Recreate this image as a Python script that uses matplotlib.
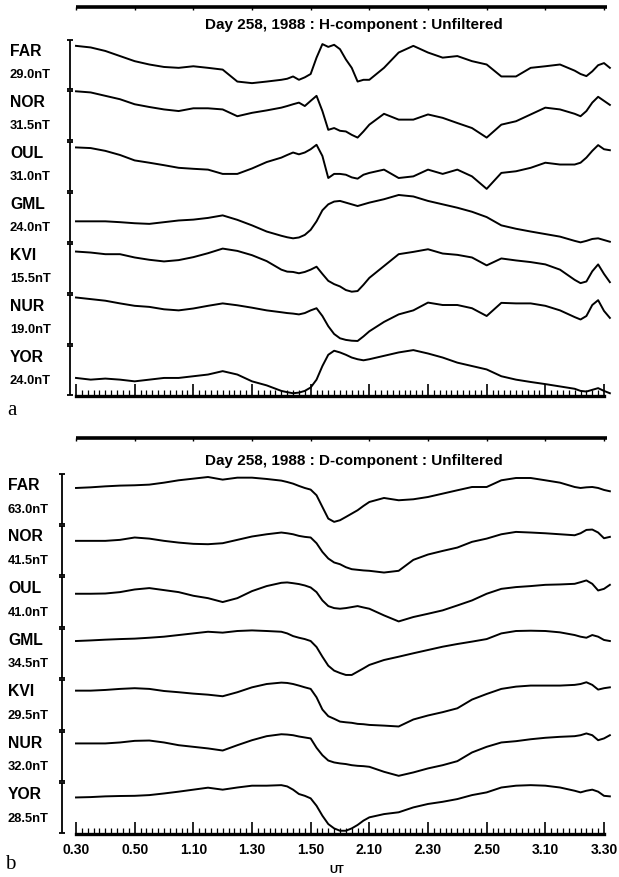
import matplotlib
matplotlib.use("Agg")
import matplotlib.pyplot as plt
from matplotlib.ticker import FixedLocator, MultipleLocator

plt.rcParams["font.family"] = ["Liberation Sans", "DejaVu Sans"]
plt.rcParams["font.weight"] = "bold"

# sample times, minutes after 00:30 UT
MINUTES = [0, 5, 10, 15, 20, 25, 30, 35, 40, 45, 50, 55, 60, 65, 70,
           72, 74, 76, 78, 80, 82, 84, 86, 88, 90, 92, 94, 96, 98, 100,
           105, 110, 115, 120, 125, 130, 135, 140, 145, 150, 155, 160, 165, 170,
           172, 174, 176, 178, 180, 182]

STATIONS = ["FAR", "NOR", "OUL", "GML", "KVI", "NUR", "YOR"]
H_SCALES = [29.0, 31.5, 31.0, 24.0, 15.5, 19.0, 24.0]
D_SCALES = [63.0, 41.5, 41.0, 34.5, 29.5, 32.0, 28.5]

TICK_MINUTES = [0, 20, 40, 60, 80, 100, 120, 140, 160, 180]
TICK_LABELS = ["0.30", "0.50", "1.10", "1.30", "1.50", "2.10", "2.30", "2.50", "3.10", "3.30"]

# H-component, nT above the bottom of each station's strip
H_FAR = [25.1, 24.2, 22.2, 19.3, 16.4, 14.5, 13.1, 12.6, 13.5, 12.6, 11.6, 4.8, 3.9, 4.8, 5.8,
         6.4, 7.7, 5.8, 7.2, 9.1, 18.4, 26.1, 24.5, 25.7, 23.2, 17.4, 12.6, 4.8, 5.8, 5.8,
         12.6, 21.3, 25.1, 21.3, 18.4, 19.3, 16.4, 14.5, 7.7, 7.7, 12.6, 13.5, 14.5, 11.0,
         9.1, 7.9, 10.6, 14.1, 15.3, 12.6]
H_NOR = [30.7, 30.0, 27.9, 25.8, 22.7, 21.0, 19.5, 18.5, 20.2, 20.2, 19.5, 15.3, 17.4, 18.9, 20.6,
         21.6, 22.7, 23.7, 21.6, 24.8, 27.9, 18.5, 6.9, 8.0, 6.3, 5.9, 3.8, 2.1, 5.9, 10.1,
         16.8, 13.2, 13.2, 16.4, 14.3, 11.1, 8.0, 2.1, 10.1, 12.2, 16.4, 20.6, 19.5, 16.8,
         15.3, 18.5, 23.7, 27.3, 24.8, 22.3]
H_OUL = [27.1, 26.7, 25.0, 22.5, 19.2, 17.8, 16.3, 14.7, 14.1, 13.6, 11.0, 11.0, 14.3, 18.2, 20.9,
         22.5, 24.0, 22.9, 24.0, 26.0, 28.7, 21.9, 8.5, 11.0, 11.0, 10.5, 8.9, 8.1, 10.5, 11.6,
         13.6, 8.5, 9.5, 13.6, 11.0, 13.6, 9.5, 1.9, 11.6, 12.6, 14.7, 17.8, 16.7, 16.7,
         17.8, 20.9, 25.0, 28.5, 26.0, 25.4]
H_GML = [10.2, 10.2, 10.2, 9.8, 9.3, 9.0, 9.8, 10.6, 11.0, 11.8, 13.0, 10.9, 8.3, 5.4, 3.4,
         2.7, 2.2, 2.6, 3.8, 6.2, 10.2, 15.4, 18.2, 19.5, 19.8, 19.0, 18.2, 17.4, 18.2, 19.0,
         20.6, 22.6, 21.9, 19.8, 18.2, 16.6, 14.7, 12.2, 8.3, 6.7, 5.4, 4.2, 3.0, 1.0,
         0.3, 1.0, 1.9, 2.2, 1.4, 0.6]
H_KVI = [12.9, 12.6, 12.1, 12.1, 11.1, 10.4, 9.9, 10.3, 11.2, 12.4, 13.8, 13.1, 11.8, 10.0, 7.4,
         6.8, 6.7, 6.3, 6.7, 7.4, 8.3, 6.1, 4.0, 3.0, 2.3, 1.2, 0.7, 0.9, 2.8, 4.9,
         8.5, 12.1, 12.8, 13.6, 12.3, 11.9, 11.1, 8.7, 10.8, 10.2, 9.7, 9.0, 7.4, 4.3,
         3.3, 3.8, 6.9, 9.0, 6.1, 3.6]
H_NUR = [17.7, 17.1, 16.5, 15.5, 14.6, 14.2, 13.3, 12.9, 13.6, 14.6, 15.5, 14.8, 13.9, 12.9, 12.2,
         11.9, 11.7, 11.4, 11.9, 12.9, 13.7, 10.8, 7.0, 4.1, 2.5, 1.9, 1.6, 1.5, 3.2, 5.1,
         8.6, 11.4, 12.9, 15.8, 14.9, 14.9, 13.7, 10.8, 15.7, 15.5, 15.5, 14.6, 12.9, 10.4,
         9.5, 10.8, 14.9, 16.7, 12.7, 10.1]
H_YOR = [8.5, 7.7, 8.2, 7.7, 6.9, 7.7, 8.5, 8.5, 9.3, 10.1, 11.7, 10.1, 6.9, 5.0, 2.4,
         1.8, 1.3, 1.6, 2.4, 4.0, 7.7, 14.1, 19.4, 21.3, 20.5, 19.4, 18.1, 17.3, 16.8, 17.3,
         18.9, 20.5, 21.6, 20.0, 18.1, 15.7, 14.1, 12.5, 9.3, 7.7, 6.6, 5.6, 4.5, 3.4,
         2.4, 2.1, 2.9, 3.7, 2.4, 1.3]

# D-component
D_FAR = [44.7, 45.5, 46.7, 47.6, 48.0, 48.8, 51.2, 54.1, 56.1, 58.1, 54.9, 57.3, 57.3, 55.7, 53.7,
         52.0, 50.0, 47.2, 44.7, 42.7, 35.8, 21.5, 7.3, 3.3, 5.3, 9.3, 13.4, 17.5, 22.8, 27.6,
         32.5, 29.7, 30.9, 33.7, 37.8, 41.9, 45.9, 45.9, 54.1, 56.9, 56.9, 54.1, 51.2, 45.9,
         44.7, 45.5, 45.9, 44.7, 42.3, 40.7]
D_NOR = [28.4, 28.4, 28.4, 29.2, 31.1, 30.2, 28.4, 27.0, 26.0, 25.7, 26.5, 29.2, 31.9, 33.7, 35.1,
         34.5, 33.7, 32.4, 31.6, 31.1, 26.5, 19.5, 14.2, 11.0, 9.6, 7.2, 5.6, 5.1, 4.6, 4.3,
         2.9, 4.3, 13.1, 17.4, 20.3, 23.0, 27.6, 30.2, 33.7, 35.6, 35.1, 34.5, 33.7, 32.9,
         34.5, 37.2, 37.5, 35.1, 30.5, 31.6]
D_OUL = [27.0, 27.0, 27.2, 28.3, 30.4, 31.5, 29.9, 28.3, 25.4, 23.5, 20.4, 23.5, 29.1, 33.1, 35.7,
         36.0, 35.4, 34.7, 33.6, 32.0, 28.3, 21.7, 17.2, 15.6, 15.1, 15.6, 16.4, 17.2, 16.1, 15.1,
         9.8, 5.0, 8.5, 11.1, 13.8, 17.7, 21.7, 27.0, 30.9, 32.3, 33.1, 34.1, 34.4, 34.9,
         36.2, 37.6, 34.9, 29.6, 30.9, 34.1]
D_GML = [25.6, 26.0, 26.5, 26.9, 27.2, 27.8, 28.5, 29.6, 30.7, 31.8, 31.2, 32.3, 32.7, 32.3, 31.8,
         30.7, 28.9, 27.8, 26.9, 25.6, 21.6, 15.1, 9.1, 5.8, 4.2, 2.9, 2.9, 5.1, 7.3, 9.6,
         12.9, 15.1, 17.4, 19.6, 21.8, 23.6, 25.2, 26.9, 30.7, 32.3, 32.5, 32.3, 31.4, 29.6,
         28.5, 27.8, 29.6, 28.5, 26.3, 25.6]
D_KVI = [23.0, 23.0, 23.4, 24.0, 24.4, 24.0, 22.8, 22.1, 21.3, 20.7, 19.8, 22.1, 24.9, 26.8, 27.6,
         27.4, 26.8, 25.9, 24.9, 24.0, 19.2, 12.2, 8.4, 6.9, 5.3, 4.9, 4.6, 4.0, 3.8, 3.4,
         3.0, 2.5, 6.5, 8.8, 10.7, 12.9, 17.9, 21.1, 24.0, 25.3, 25.9, 25.9, 25.9, 26.3,
         26.8, 27.8, 26.3, 23.6, 24.4, 24.9]
D_NUR = [24.2, 24.2, 24.2, 24.8, 25.8, 26.0, 24.8, 23.1, 22.1, 21.1, 19.8, 23.1, 26.2, 28.7, 29.9,
         29.7, 29.3, 28.5, 27.9, 27.3, 21.5, 16.9, 13.6, 12.4, 11.8, 11.4, 10.7, 10.3, 10.1, 9.7,
         6.6, 4.1, 6.2, 8.7, 10.7, 13.2, 18.6, 22.1, 24.8, 25.6, 26.8, 27.7, 28.3, 28.7,
         29.3, 30.4, 29.3, 26.2, 27.3, 29.3]
D_YOR = [20.2, 20.4, 20.8, 21.0, 21.1, 21.5, 22.4, 23.4, 24.5, 25.6, 24.5, 25.7, 26.7, 26.7, 27.0,
         26.3, 24.5, 22.1, 21.1, 19.7, 15.6, 10.1, 5.5, 3.1, 1.8, 1.8, 3.1, 5.0, 7.4, 9.2,
         11.0, 12.0, 14.7, 16.6, 17.8, 19.3, 21.5, 23.0, 25.7, 26.7, 27.0, 26.7, 25.7, 23.9,
         23.0, 23.9, 24.5, 23.4, 21.1, 20.8]

FIG_W, FIG_H = 619, 878


def px_box(left, top, right, bottom):
    return [left / FIG_W, 1 - bottom / FIG_H, (right - left) / FIG_W, (bottom - top) / FIG_H]


def draw_panel(ax, traces, scales, title, letter, opts):
    n = len(traces)
    ax.set_xlim(0, 180)
    ax.set_ylim(0, n)

    for i, (name, vals, scale) in enumerate(zip(STATIONS, traces, scales)):
        base = n - 1 - i
        ax.plot(MINUTES, [base + v / scale for v in vals], color="black", lw=1.4,
                clip_on=False, solid_joinstyle="round")

        # scale bar: the strip height equals the quoted field range
        bx = opts["bar_x"]
        ax.vlines(bx, base + 0.02, base + 0.98, color="black", lw=1.3, clip_on=False)
        ax.hlines([base + 0.02, base + 0.98], bx - 1.1, bx + 1.1, color="black", lw=1.3,
                  clip_on=False)

        ax.text(opts["label_x"], base + 0.78, name, fontsize=11.3, ha="left", va="center")
        ax.text(opts["label_x"], base + 0.31, f"{scale:.1f}nT", fontsize=9.3,
                ha="left", va="center")

    # heavy rule above each panel
    top = opts["top_y"]
    ax.plot([0, 181], [top, top], color="black", lw=2.6, clip_on=False, solid_capstyle="butt")
    ax.vlines(TICK_MINUTES, top - 0.06, top, color="black", lw=1.0, clip_on=False)

    ax.text(94.8, opts["title_y"], title, fontsize=11, ha="center", va="center")
    ax.text(opts["label_x"] - 1, opts["letter_y"], letter, fontsize=15, fontweight="normal",
            family=["Liberation Serif", "DejaVu Serif"], ha="left", va="center")

    for side in ("left", "right", "top"):
        ax.spines[side].set_visible(False)
    ax.spines["bottom"].set_linewidth(2.4)
    ax.set_yticks([])
    ax.xaxis.set_major_locator(FixedLocator(TICK_MINUTES))
    ax.xaxis.set_minor_locator(MultipleLocator(2))
    ax.tick_params(axis="x", which="major", direction="in", length=9, width=1.2)
    ax.tick_params(axis="x", which="minor", direction="in", length=4.5, width=0.9)


fig = plt.figure(figsize=(FIG_W / 100, FIG_H / 100), dpi=100)

ax_h = fig.add_axes(px_box(76, 40, 604, 397))
draw_panel(ax_h, [H_FAR, H_NOR, H_OUL, H_GML, H_KVI, H_NUR, H_YOR], H_SCALES,
           "Day 258, 1988 : H-component : Unfiltered", "a",
           {"bar_x": -2.0, "label_x": -22.5, "top_y": 7.63, "title_y": 7.29, "letter_y": -0.26})
ax_h.tick_params(axis="x", labelbottom=False)

ax_d = fig.add_axes(px_box(76, 474, 604, 835))
draw_panel(ax_d, [D_FAR, D_NOR, D_OUL, D_GML, D_KVI, D_NUR, D_YOR], D_SCALES,
           "Day 258, 1988 : D-component : Unfiltered", "b",
           {"bar_x": -4.8, "label_x": -23.2, "top_y": 7.68, "title_y": 7.25, "letter_y": -0.58})
ax_d.set_xticks(TICK_MINUTES, TICK_LABELS)
ax_d.tick_params(axis="x", which="major", labelsize=10, pad=6)
ax_d.text(89, -0.68, "UT", fontsize=8, ha="center", va="center")

fig.savefig("out.png", dpi=100)
